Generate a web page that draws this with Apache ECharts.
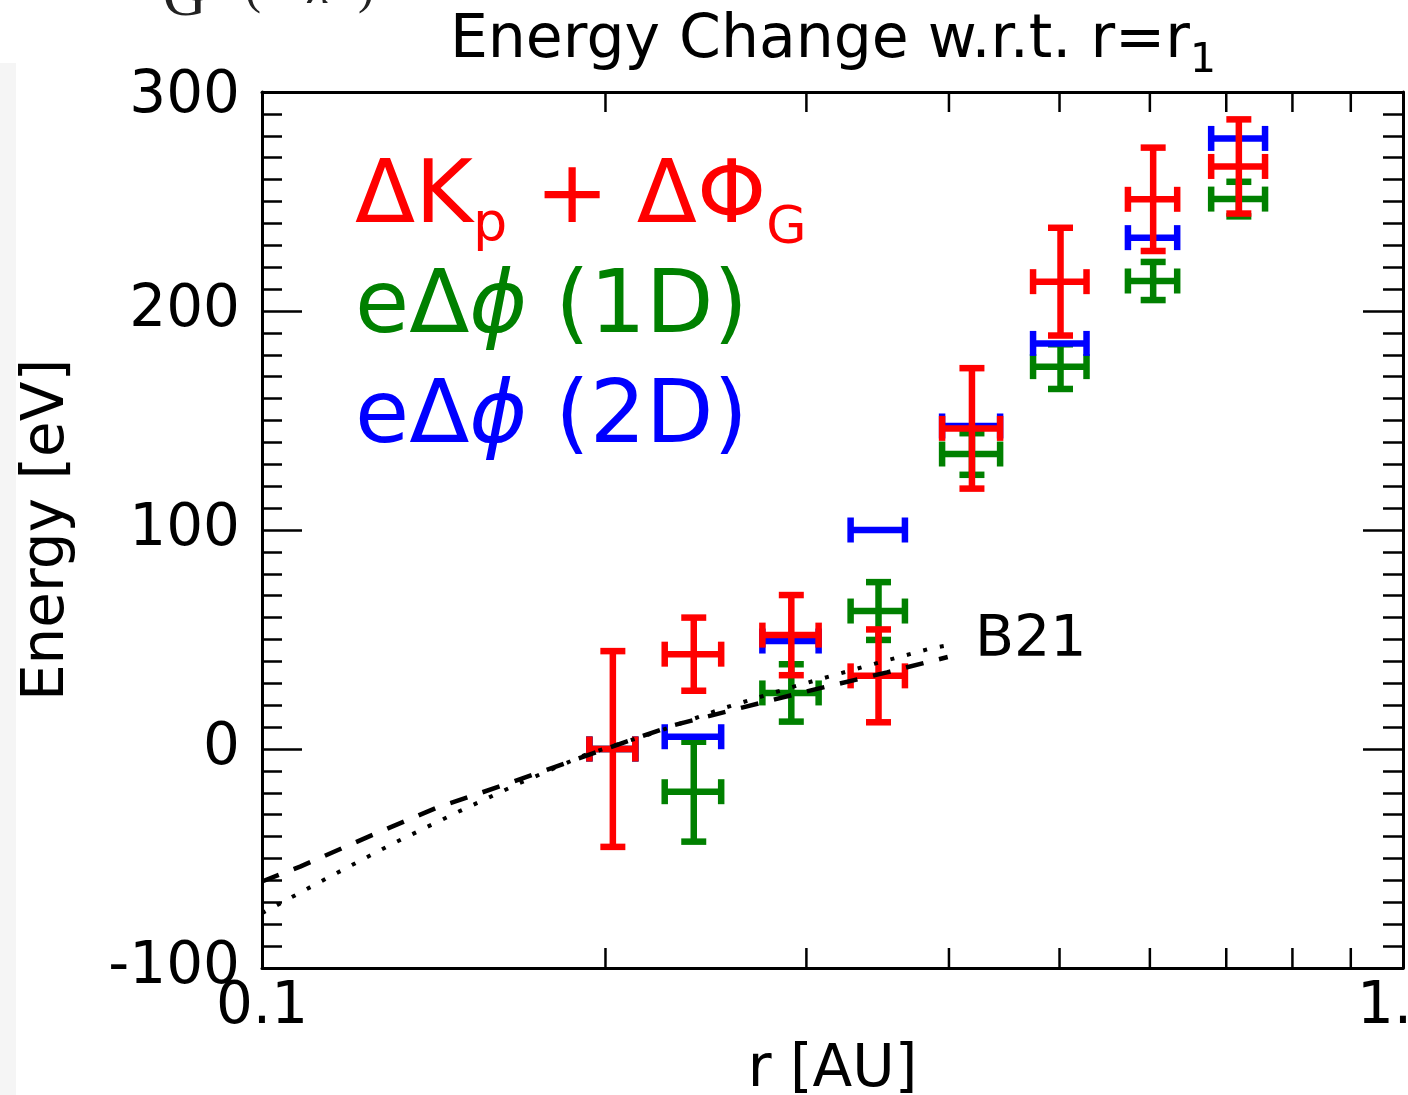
<!DOCTYPE html>
<html>
<head>
<meta charset="utf-8">
<script src="https://cdn.jsdelivr.net/npm/echarts@6/dist/echarts.min.js"></script>
<style>
  html, body { margin: 0; padding: 0; background: #ffffff; }
  #chart { width: 1408px; height: 1095px; }
</style>
</head>
<body>
<div id="chart"></div>
<script>
// Heliocentric distance of each sample [AU] and its half-width
const radii = [0.203, 0.239, 0.291, 0.347, 0.419, 0.501, 0.604, 0.718];
const radiusErr = [0.0094, 0.0136, 0.0165, 0.019, 0.0245, 0.027, 0.030, 0.039];

// Delta K_p + Delta Phi_G (red) with vertical uncertainty
const kinPot = [0, 43.3, 52, 33.4, 146.4, 213.4, 251, 266];
const kinPotErr = [44.7, 16.7, 18.3, 21.2, 27.5, 24.6, 23.6, 21.5];

// e Delta phi from the 1D model (green) with vertical uncertainty
const phi1D = [0, -19.5, 25.6, 63, 134.7, 174.6, 213.7, 251.1];
const phi1DErr = [0, 22.8, 13.1, 13.2, 9.5, 10.2, 8.7, 7.9];

// e Delta phi from the 2D model (blue)
const phi2D = [0, 5.6, 49.3, 100, 147.5, 185.2, 233.5, 278.8];

// B21 reference curves
const b21DashedR = [0.100, 0.108, 0.124, 0.142, 0.163, 0.186, 0.200, 0.230, 0.264, 0.304, 0.353, 0.399];
const b21DashedE = [-60.5, -53.7, -40, -27, -16.4, -5.8, 0, 11, 19, 27, 35, 42];
const b21DottedR = [0.100, 0.114, 0.130, 0.148, 0.168, 0.192, 0.222, 0.255, 0.292, 0.337, 0.386, 0.400];
const b21DottedE = [-75, -59, -43.4, -29.1, -15.7, -2.7, 7.9, 19, 28.4, 37.6, 46, 47.5];

// Axis ranges and ticks
const xRange = [0.1, 1.0];
const xMinorTicks = [0.2, 0.3, 0.4, 0.5, 0.6, 0.7, 0.8, 0.9];
const yRange = [-100, 300];
const yStep = 100;

const FONT = '"DejaVu Sans", "Noto Sans", sans-serif';
const RED = '#ff0000', GREEN = '#008000', BLUE = '#0000ff';
const BAR_W = 6.5, CAP = 12.5;
// distance from the middle of the em box to the alphabetic baseline, in em
const MID_TO_BASE = 0.28;

const chart = echarts.init(document.getElementById('chart'), null, { renderer: 'canvas' });

function errorBars(color) {
  return function (params, api) {
    const r = api.value(0), e = api.value(1), ey = api.value(2), er = api.value(3);
    const c = api.coord([r, e]);
    const xl = api.coord([r - er, e])[0];
    const xr = api.coord([r + er, e])[0];
    const kids = [];
    const seg = (x1, y1, x2, y2) => kids.push({
      type: 'line', shape: { x1, y1, x2, y2 },
      style: { stroke: color, lineWidth: BAR_W, lineCap: 'butt' }
    });
    seg(xl, c[1], xr, c[1]);
    seg(xl, c[1] - CAP, xl, c[1] + CAP);
    seg(xr, c[1] - CAP, xr, c[1] + CAP);
    if (ey > 0) {
      const yt = api.coord([r, e + ey])[1];
      const yb = api.coord([r, e - ey])[1];
      seg(c[0], yt, c[0], yb);
      seg(c[0] - CAP, yt, c[0] + CAP, yt);
      seg(c[0] - CAP, yb, c[0] + CAP, yb);
    }
    return { type: 'group', children: kids };
  };
}

function minorTickItem(params, api) {
  const v = api.value(0);
  const b = api.coord([v, yRange[0]]);
  const t = api.coord([v, yRange[1]]);
  const st = () => ({ stroke: '#000', lineWidth: 2.5 });
  return {
    type: 'group',
    children: [
      { type: 'line', shape: { x1: b[0], y1: b[1], x2: b[0], y2: b[1] - 20 }, style: st() },
      { type: 'line', shape: { x1: t[0], y1: t[1], x2: t[0], y2: t[1] + 20 }, style: st() }
    ]
  };
}

// Text runs laid out left to right on a shared baseline
const measure = document.createElement('canvas').getContext('2d');
function fontOf(r) {
  return (r.italic ? 'italic ' : '') + r.size + 'px ' + (r.family || FONT);
}
function widthOf(list) {
  let w = 0;
  for (const r of list) { measure.font = fontOf(r); w += measure.measureText(r.text).width; }
  return w;
}
function runs(list, x0, baseline) {
  let x = x0;
  const out = [];
  for (const r of list) {
    const font = fontOf(r);
    measure.font = font;
    out.push({
      type: 'text', x: x, y: baseline + (r.dy || 0) - MID_TO_BASE * r.size, z: 50,
      style: { text: r.text, font: font, fill: r.color || '#000', align: 'left', verticalAlign: 'middle' }
    });
    x += measure.measureText(r.text).width;
  }
  return out;
}

const titleRuns = [
  { text: 'Energy Change w.r.t. r=r', size: 60 },
  { text: '1', size: 41, dy: 15 }
];
const legend1 = [
  { text: 'ΔK', size: 88, color: RED },
  { text: 'p', size: 54, color: RED, dy: 17 },
  { text: ' + ΔΦ', size: 88, color: RED },
  { text: 'G', size: 52, color: RED, dy: 20 }
];
const legend2 = [
  { text: 'eΔ', size: 88, color: GREEN },
  { text: 'ϕ', size: 88, color: GREEN, italic: true },
  { text: ' (1D)', size: 88, color: GREEN }
];
const legend3 = [
  { text: 'eΔ', size: 88, color: BLUE },
  { text: 'ϕ', size: 88, color: BLUE, italic: true },
  { text: ' (2D)', size: 88, color: BLUE }
];

const graphics = [
  { type: 'rect', shape: { x: 0, y: 63, width: 16, height: 1032 }, style: { fill: '#f5f5f5' }, z: 0 },
  ...runs([{ text: 'G', size: 60, family: '"Liberation Serif", serif', color: '#222' }], 163, 16),
  ...runs([{ text: '(', size: 48, family: '"Liberation Serif", serif', color: '#222' }], 245, 4),
  ...runs([{ text: 'λ', size: 48, italic: true, family: '"Liberation Serif", serif', color: '#222' }], 308, 4),
  ...runs([{ text: ')', size: 48, family: '"Liberation Serif", serif', color: '#222' }], 358, 4),
  ...runs(titleRuns, 833 - widthOf(titleRuns) / 2, 58),
  ...runs(legend1, 355, 224),
  ...runs(legend2, 355, 334),
  ...runs(legend3, 355, 444),
  ...runs([{ text: 'B21', size: 57 }], 975, 657)
];

const yAxisBase = {
  type: 'value',
  min: yRange[0], max: yRange[1], interval: yStep,
  axisLine: { show: true, onZero: false, lineStyle: { color: '#000', width: 3 } },
  axisTick: { show: true, inside: true, length: 40, lineStyle: { color: '#000', width: 2.5 } },
  minorTick: { show: true, splitNumber: 10, length: 20, lineStyle: { color: '#000', width: 2.5 } },
  splitLine: { show: false },
  minorSplitLine: { show: false }
};

const option = {
  animation: false,
  backgroundColor: '#ffffff',
  grid: { left: 262, right: 5, top: 92, bottom: 127, containLabel: false, outerBoundsMode: 'none' },
  xAxis: [
    {
      type: 'log', logBase: 10, min: xRange[0], max: xRange[1], position: 'bottom',
      name: 'r [AU]', nameLocation: 'middle', nameGap: 70,
      nameTextStyle: { fontFamily: FONT, fontSize: 58, color: '#000' },
      axisLine: { show: true, onZero: false, lineStyle: { color: '#000', width: 3 } },
      axisTick: { show: false },
      axisLabel: {
        show: true, margin: 11, fontFamily: FONT, fontSize: 58, color: '#000', hideOverlap: false,
        showMinLabel: true, showMaxLabel: true,
        formatter: v => Number(v).toFixed(1)
      },
      splitLine: { show: false }, minorTick: { show: false }
    },
    {
      type: 'log', logBase: 10, min: xRange[0], max: xRange[1], position: 'top',
      axisLine: { show: true, onZero: false, lineStyle: { color: '#000', width: 3 } },
      axisTick: { show: false }, axisLabel: { show: false }, splitLine: { show: false }
    }
  ],
  yAxis: [
    Object.assign({}, yAxisBase, {
      position: 'left',
      name: 'Energy [eV]', nameLocation: 'middle', nameGap: 185, nameRotate: 90,
      nameTextStyle: { fontFamily: FONT, fontSize: 58, color: '#000' },
      axisLabel: {
        show: true, margin: 22, fontFamily: FONT, fontSize: 58, color: '#000', hideOverlap: false,
        // the top label sits a little below its tick so it clears the frame corner
        formatter: v => (v === yRange[1] ? '{top|' + v + '}' : String(v)),
        rich: { top: { fontFamily: FONT, fontSize: 58, color: '#000', padding: [10, 0, 0, 0] } }
      }
    }),
    Object.assign({}, yAxisBase, { position: 'right', axisLabel: { show: false } })
  ],
  graphic: graphics,
  series: [
    {
      type: 'custom', name: 'x minor ticks', xAxisIndex: 0, yAxisIndex: 0, clip: false, z: 1,
      renderItem: minorTickItem, silent: true,
      data: xMinorTicks.map(v => [v])
    },
    {
      type: 'custom', name: 'eΔϕ (1D)', xAxisIndex: 0, yAxisIndex: 0, clip: false, z: 2,
      renderItem: errorBars(GREEN), encode: { x: 0, y: 1 },
      data: radii.map((r, i) => [r, phi1D[i], phi1DErr[i], radiusErr[i]])
    },
    {
      type: 'custom', name: 'eΔϕ (2D)', xAxisIndex: 0, yAxisIndex: 0, clip: false, z: 3,
      renderItem: errorBars(BLUE), encode: { x: 0, y: 1 },
      data: radii.map((r, i) => [r, phi2D[i], 0, radiusErr[i]])
    },
    {
      type: 'custom', name: 'ΔKp + ΔΦG', xAxisIndex: 0, yAxisIndex: 0, clip: false, z: 4,
      renderItem: errorBars(RED), encode: { x: 0, y: 1 },
      data: radii.map((r, i) => [r, kinPot[i], kinPotErr[i], radiusErr[i]])
    },
    {
      type: 'line', name: 'B21 dashed', xAxisIndex: 0, yAxisIndex: 0, z: 5,
      showSymbol: false, symbol: 'none', smooth: false,
      lineStyle: { color: '#000', width: 4.5, type: [18, 16], cap: 'butt' },
      emphasis: { disabled: true },
      data: b21DashedR.map((r, i) => [r, b21DashedE[i]])
    },
    {
      type: 'line', name: 'B21 dotted', xAxisIndex: 0, yAxisIndex: 0, z: 5,
      showSymbol: false, symbol: 'none', smooth: false,
      lineStyle: { color: '#000', width: 4, type: [4, 13], cap: 'butt' },
      emphasis: { disabled: true },
      data: b21DottedR.map((r, i) => [r, b21DottedE[i]])
    }
  ]
};

chart.setOption(option);
</script>
</body>
</html>
